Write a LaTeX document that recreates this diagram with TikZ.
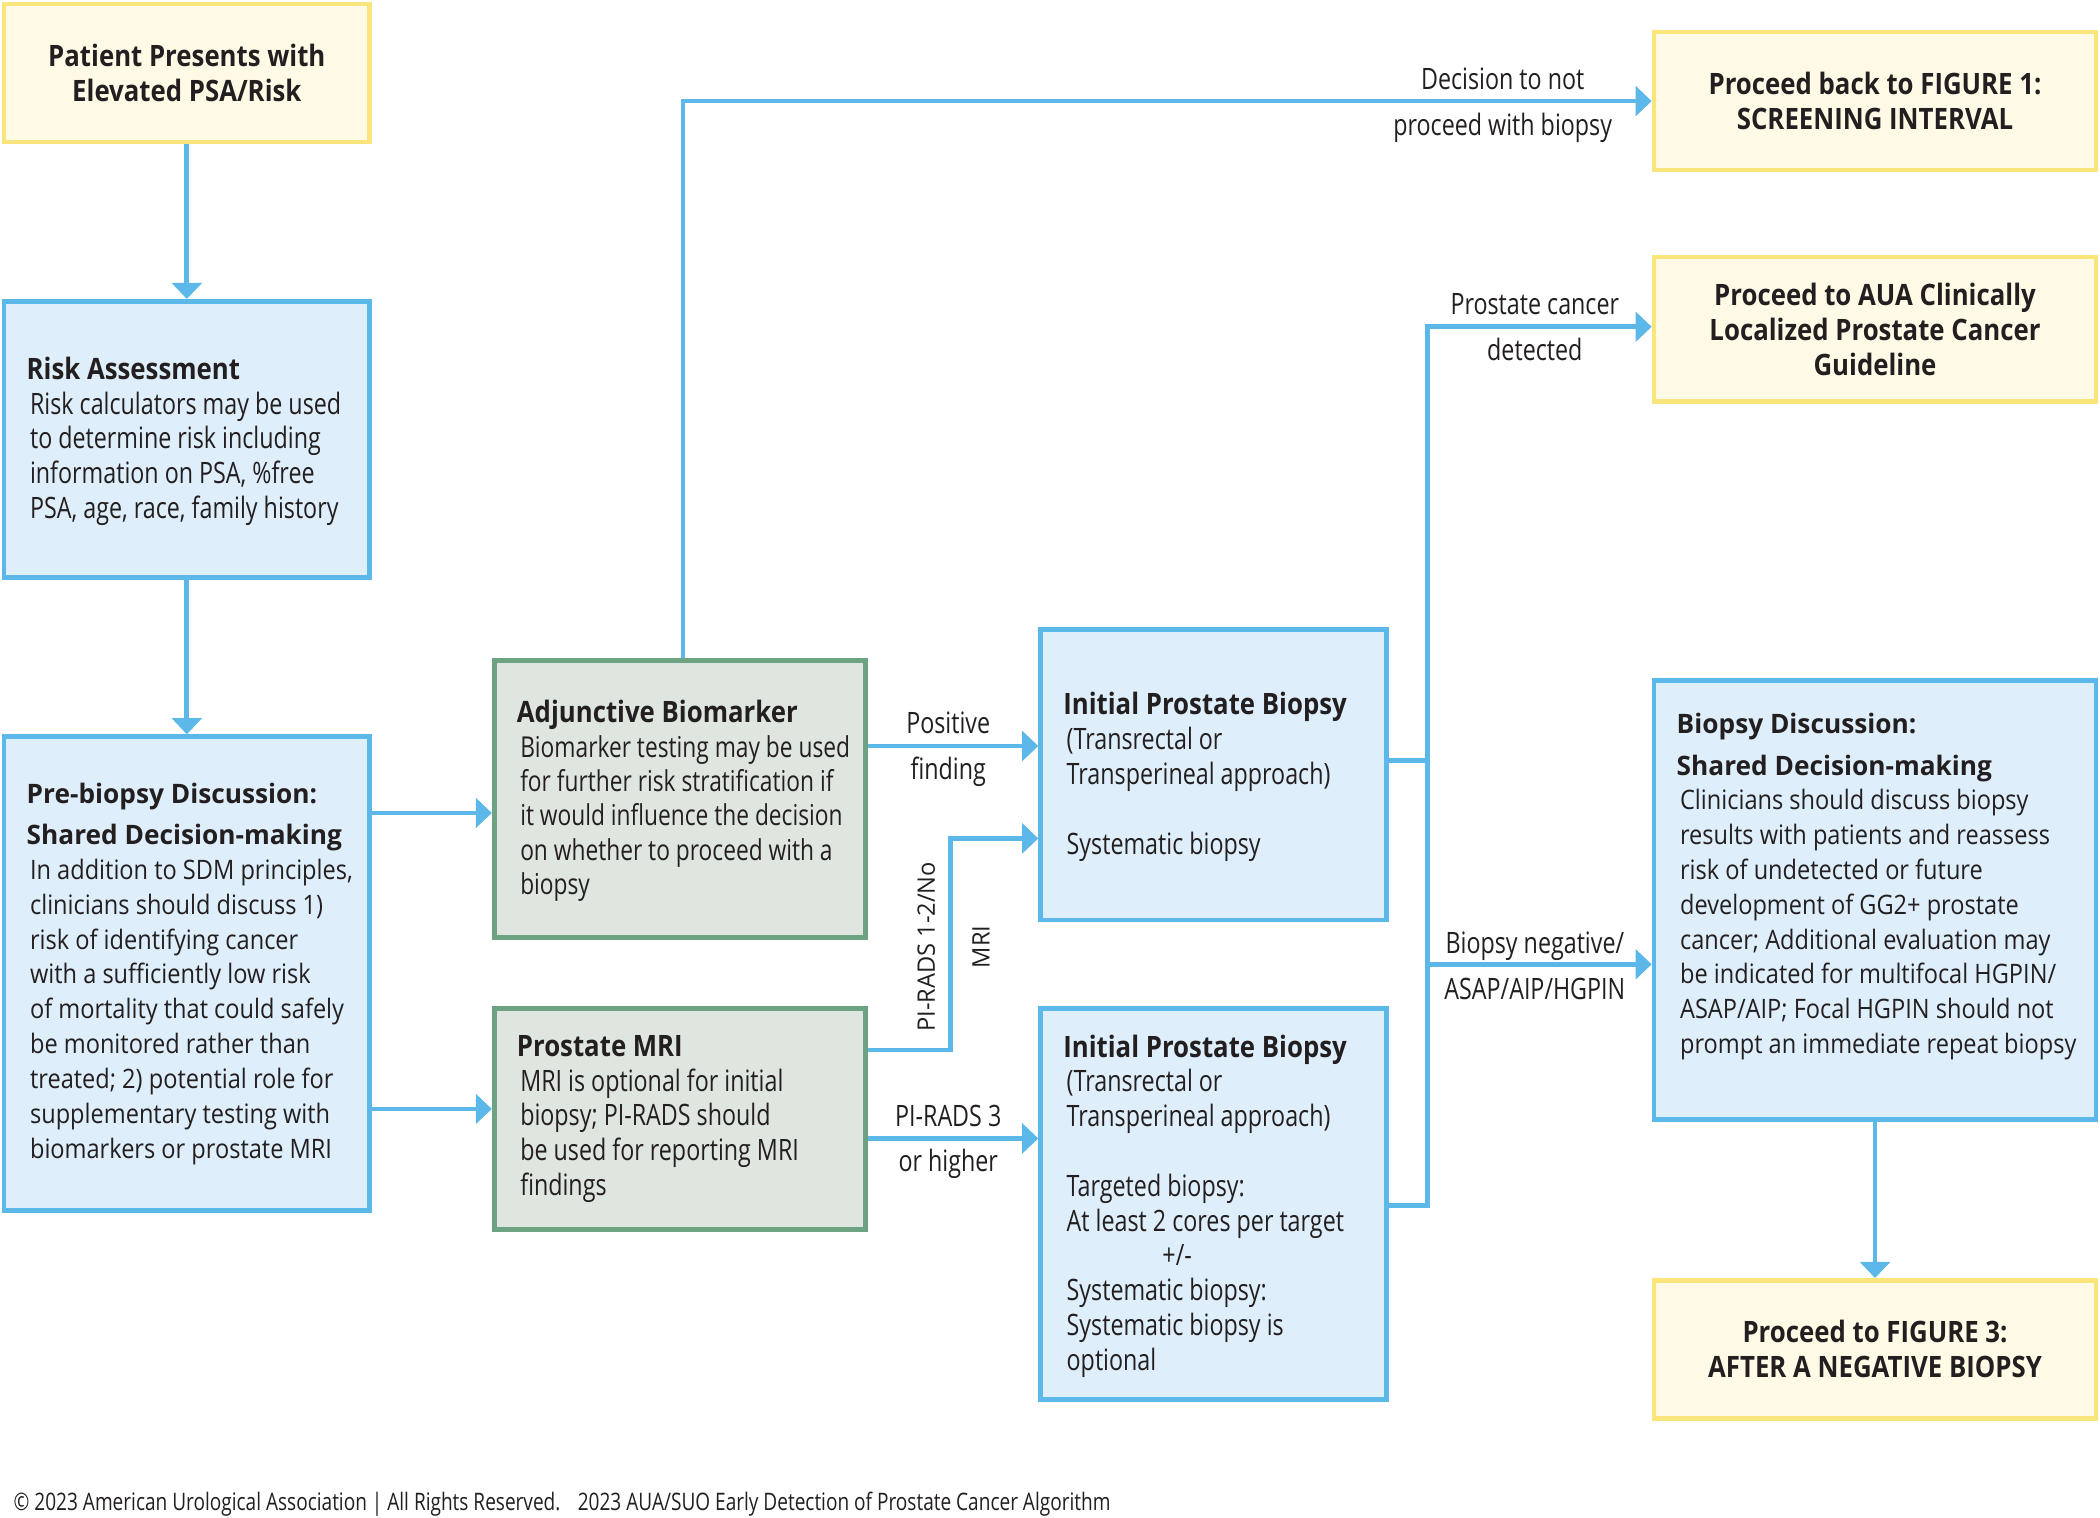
\documentclass[tikz,border=0pt]{standalone}
\usepackage{fontspec}
\setmainfont{Open Sans}
\newfontfamily\cf{Open Sans}[FakeStretch=0.79]
\newfontfamily\hf{Open Sans}[FakeStretch=0.875]
\newfontfamily\nf{Open Sans}[FakeStretch=0.88]
\newfontfamily\nhf{Open Sans}[FakeStretch=0.98]
\usetikzlibrary{arrows.meta,calc}
\definecolor{blueline}{HTML}{5BB8E9}
\definecolor{bluefill}{HTML}{DEEEFA}
\definecolor{yline}{HTML}{FAE57C}
\definecolor{yfill}{HTML}{FFFAE5}
\definecolor{gline}{HTML}{6DA282}
\definecolor{gfill}{HTML}{DFE6DF}
\definecolor{textc}{HTML}{231F20}
\newcommand\bodyind{\hspace*{2.5pt}}
\tikzset{
  box/.style={line width=3.5pt, inner sep=0pt},
  bbox/.style={box, draw=blueline, fill=bluefill},
  gbox/.style={box, draw=gline, fill=gfill},
  ybox/.style={box, draw=yline, fill=yfill, align=center, text=textc,
    font=\hf\bfseries\fontsize{22}{26}\selectfont},
  txt/.style={inner sep=0pt, align=left, anchor=west, text=textc,
    font=\cf\fontsize{22}{26}\selectfont},
  ntxt/.style={txt, font=\nf\fontsize{20}{26}\selectfont},
  lbl/.style={inner sep=0pt, anchor=base, text=textc,
    font=\cf\fontsize{22}{26}\selectfont},
  rlbl/.style={lbl, rotate=90, font=\nhf\fontsize{18}{22}\selectfont},
  conn/.style={draw=blueline, line width=3.5pt},
  arr/.style={conn, -{Triangle[width=22pt,length=12pt]}},
}
\begin{document}
\begin{tikzpicture}[x=1pt,y=-1pt]
\useasboundingbox[fill=white] (0,0) rectangle (1568,1133);

% ---------- boxes ----------
\node[ybox, minimum width=273pt, minimum height=103pt] (patient) at (139.5,54.5)
  {Patient Presents with\\Elevated PSA/Risk};

\node[bbox, minimum width=273pt, minimum height=206pt] (risk) at (139.5,328) {};
\node[txt] (risk-t) at ([xshift=18.5pt,yshift=-1.5pt]risk.west)
  {{\hf\bfseries Risk Assessment}\\
   \bodyind Risk calculators may be used\\
   \bodyind to determine risk including\\
   \bodyind information on PSA, \%free\\
   \bodyind PSA, age, race, family history};

\node[bbox, minimum width=273pt, minimum height=354pt] (pre) at (139.5,727) {};
\node[ntxt] (pre-t) at ([xshift=18.5pt]pre.west)
  {{\nhf\bfseries Pre-biopsy Discussion:}\\[5pt]
   {\nhf\bfseries Shared Decision-making}\\
   \bodyind In addition to SDM principles,\\
   \bodyind clinicians should discuss 1)\\
   \bodyind risk of identifying cancer\\
   \bodyind with a sufficiently low risk\\
   \bodyind of mortality that could safely\\
   \bodyind be monitored rather than\\
   \bodyind treated; 2) potential role for\\
   \bodyind supplementary testing with\\
   \bodyind biomarkers or prostate MRI};

\node[gbox, minimum width=277pt, minimum height=207pt] (adj) at (507.5,596.5) {};
\node[txt, font=\cf\fontsize{21.5}{25.6}\selectfont] (adj-t) at ([xshift=18.5pt,yshift=-1.5pt]adj.west)
  {{\hf\bfseries\fontsize{22}{25.6}\selectfont Adjunctive Biomarker}\\
   \bodyind Biomarker testing may be used\\
   \bodyind for further risk stratification if\\
   \bodyind it would influence the decision\\
   \bodyind on whether to proceed with a\\
   \bodyind biopsy};

\node[gbox, minimum width=277pt, minimum height=165pt] (mri) at (507.5,835.5) {};
\node[txt] (mri-t) at ([xshift=18.5pt]mri.west)
  {{\hf\bfseries Prostate MRI}\\
   \bodyind MRI is optional for initial\\
   \bodyind biopsy; PI-RADS should\\
   \bodyind be used for reporting MRI\\
   \bodyind findings};

\node[bbox, minimum width=258pt, minimum height=217pt] (bio1) at (906,578.5) {};
\node[txt] (bio1-t) at ([xshift=18.5pt,yshift=-1.5pt]bio1.west)
  {{\hf\bfseries Initial Prostate Biopsy}\\
   \bodyind (Transrectal or\\
   \bodyind Transperineal approach)\\[26pt]
   \bodyind Systematic biopsy};

\node[bbox, minimum width=258pt, minimum height=292pt] (bio2) at (906,899) {};
\node[txt] (bio2-t) at ([xshift=18.5pt,yshift=-1.5pt]bio2.west)
  {{\hf\bfseries Initial Prostate Biopsy}\\
   \bodyind (Transrectal or\\
   \bodyind Transperineal approach)\\[26pt]
   \bodyind Targeted biopsy:\\
   \bodyind At least 2 cores per target\\
   \hspace*{74pt}+/-\\
   \bodyind Systematic biopsy:\\
   \bodyind Systematic biopsy is\\
   \bodyind optional};

\node[ybox, minimum width=330pt, minimum height=103pt] (back) at (1400,75.5)
  {Proceed back to FIGURE 1:\\SCREENING INTERVAL};
\node[ybox, minimum width=330pt, minimum height=108pt] (aua) at (1400,246)
  {Proceed to AUA Clinically\\Localized Prostate Cancer\\Guideline};

\node[bbox, minimum width=330pt, minimum height=328pt] (disc) at (1400,672) {};
\node[ntxt] (disc-t) at ([xshift=18.5pt,yshift=10pt]disc.west)
  {{\nhf\bfseries Biopsy Discussion:}\\[5pt]
   {\nhf\bfseries Shared Decision-making}\\
   \bodyind Clinicians should discuss biopsy\\
   \bodyind results with patients and reassess\\
   \bodyind risk of undetected or future\\
   \bodyind development of GG2+ prostate\\
   \bodyind cancer; Additional evaluation may\\
   \bodyind be indicated for multifocal HGPIN/\\
   \bodyind ASAP/AIP; Focal HGPIN should not\\
   \bodyind prompt an immediate repeat biopsy};

\node[ybox, minimum width=330pt, minimum height=103pt] (fig3) at (1400,1007.5)
  {Proceed to FIGURE 3:\\AFTER A NEGATIVE BIOPSY};

% ---------- connectors ----------
\draw[arr] (patient) -- (risk);
\draw[arr] (risk) -- (pre);
\draw[arr] ([yshift=120pt]pre.east) -- ([yshift=120pt]pre.east -| adj.west);
\draw[arr] ([yshift=-101pt]pre.east) -- ([yshift=-101pt]pre.east -| mri.west);
\draw[arr] ([xshift=2.5pt]adj.north) |- (back.west);
\draw[arr] ([yshift=39.5pt]adj.east) -- ([yshift=39.5pt]adj.east -| bio1.west);
\draw[arr] ([yshift=51.5pt]mri.east) -- ++(62,0) |- ([yshift=-47.5pt]bio1.west);
\draw[arr] ([yshift=-14.5pt]mri.east) -- ([yshift=-14.5pt]mri.east -| bio2.west);
\draw[conn] ([yshift=10.5pt]bio1.east) -- ++(29,0);
\draw[arr] ([yshift=-1pt]bio2.east) -- ++(29,0) |- ([yshift=2pt]aua.west);
\coordinate (negsplit) at ([xshift=29pt,yshift=179pt]bio2.east);
\draw[arr] (negsplit) -- (negsplit -| disc.west);
\draw[arr] (disc) -- (fig3);

% ---------- labels ----------
\node[lbl] (l-dec1) at (1122,67) {Decision to not};
\node[lbl] (l-dec2) at (1122,101) {proceed with biopsy};
\node[lbl] (l-pos1) at (708,548) {Positive};
\node[lbl] (l-pos2) at (708,582) {finding};
\node[rlbl] (l-pir1) at (698,707) {PI-RADS 1-2/No};
\node[rlbl] (l-pir2) at (739,707) {MRI};
\node[lbl] (l-p3a) at (708,841) {PI-RADS 3};
\node[lbl] (l-p3b) at (708,875) {or higher};
\node[lbl] (l-pc1) at (1146,235) {Prostate cancer};
\node[lbl] (l-pc2) at (1146,269) {detected};
\node[lbl] (l-neg1) at (1146,712) {Biopsy negative/};
\node[lbl] (l-neg2) at (1146,746) {ASAP/AIP/HGPIN};

% ---------- footer ----------
\node[lbl, anchor=base west, font=\cf\fontsize{18}{20}\selectfont] (footer) at (10,1128)
  {\textcopyright{} 2023 American Urological Association | All Rights Reserved.\hspace{8pt} 2023 AUA/SUO Early Detection of Prostate Cancer Algorithm};
\end{tikzpicture}
\end{document}
